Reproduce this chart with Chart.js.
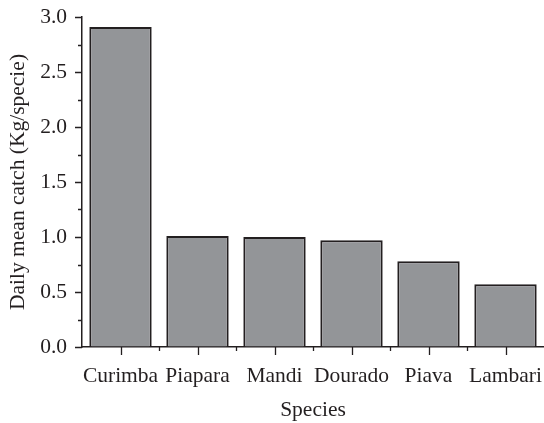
<!DOCTYPE html>
<html>
<head>
<meta charset="utf-8">
<script src="https://cdn.jsdelivr.net/npm/chart.js@4/dist/chart.umd.min.js"></script>
<style>
  html, body { margin: 0; padding: 0; background: #ffffff; }
  #wrap { width: 544px; height: 423px; }
</style>
</head>
<body>
<div id="wrap"><canvas id="c" width="544" height="423"></canvas></div>
<script>
// Daily mean catch per species
const species = ['Curimba', 'Piapara', 'Mandi', 'Dourado', 'Piava', 'Lambari'];
const catchKg = [2.91, 1.01, 1.00, 0.97, 0.78, 0.57];
const yTicks = [0.0, 0.5, 1.0, 1.5, 2.0, 2.5, 3.0];

const INK = '#231f20';
const FONT = '"Liberation Serif", "Times New Roman", serif';
const FSIZE = 21.5;

// Draws outward tick marks: major + minor on both axes
const tickMarks = {
  id: 'tickMarks',
  afterDraw(chart) {
    const { ctx } = chart;
    const x = chart.scales.x, y = chart.scales.y;
    const left = chart.chartArea.left, bottom = chart.chartArea.bottom;
    ctx.save();
    ctx.strokeStyle = INK;
    ctx.lineWidth = 1.3;
    ctx.beginPath();
    // y: major every 0.5, minor halfway between
    for (let v = 0; v <= 3.0001; v += 0.25) {
      const py = Math.round(y.getPixelForValue(v)) + 0.5;
      const major = Math.abs(v / 0.5 - Math.round(v / 0.5)) < 1e-6;
      ctx.moveTo(left, py);
      ctx.lineTo(left - (major ? 7 : 4), py);
    }
    // x: major at category centres, minor at category boundaries
    for (let i = 0; i < species.length; i++) {
      const cx = Math.round(x.getPixelForValue(i)) + 0.5;
      ctx.moveTo(cx, bottom);
      ctx.lineTo(cx, bottom + 8);
      if (i > 0) {
        const bx = Math.round((x.getPixelForValue(i - 1) + x.getPixelForValue(i)) / 2) + 0.5;
        ctx.moveTo(bx, bottom);
        ctx.lineTo(bx, bottom + 4);
      }
    }
    ctx.stroke();
    ctx.restore();
  }
};

new Chart(document.getElementById('c'), {
  type: 'bar',
  data: {
    labels: species,
    datasets: [{
      data: catchKg,
      backgroundColor: '#939598',
      borderColor: INK,
      borderWidth: 2,
      borderSkipped: 'bottom',
      barPercentage: 0.81,
      categoryPercentage: 1.0
    }]
  },
  options: {
    responsive: false,
    animation: false,
    devicePixelRatio: 1,
    layout: { padding: { top: 17, right: 0, left: 0, bottom: 0 } },
    plugins: { legend: { display: false }, tooltip: { enabled: false } },
    scales: {
      x: {
        grid: { display: true, drawOnChartArea: false, drawTicks: true, tickLength: 8, tickColor: 'rgba(0,0,0,0)' },
        border: { display: true, color: INK, width: 1.5 },
        ticks: { color: INK, font: { family: FONT, size: FSIZE }, padding: 8, maxRotation: 0, autoSkip: false },
        title: { display: true, text: 'Species', color: INK, font: { family: FONT, size: FSIZE }, padding: { top: 0, bottom: 0 } },
        afterFit(s) { s.height = 76; s.paddingLeft = 0; s.paddingRight = 0; }
      },
      y: {
        min: 0, max: 3.0,
        afterBuildTicks(s) { s.ticks = yTicks.map(v => ({ value: v })); },
        grid: { display: true, drawOnChartArea: false, drawTicks: true, tickLength: 7, tickColor: 'rgba(0,0,0,0)' },
        border: { display: true, color: INK, width: 1.5 },
        ticks: { color: INK, font: { family: FONT, size: FSIZE }, padding: 8, callback: v => Number(v).toFixed(1) },
        title: { display: true, text: 'Daily mean catch (Kg/specie)', color: INK, font: { family: FONT, size: FSIZE }, padding: { top: 5, bottom: 0 } },
        afterFit(s) { s.width = 82; s.paddingTop = 0; s.paddingBottom = 0; }
      }
    }
  },
  plugins: [tickMarks]
});
</script>
</body>
</html>
